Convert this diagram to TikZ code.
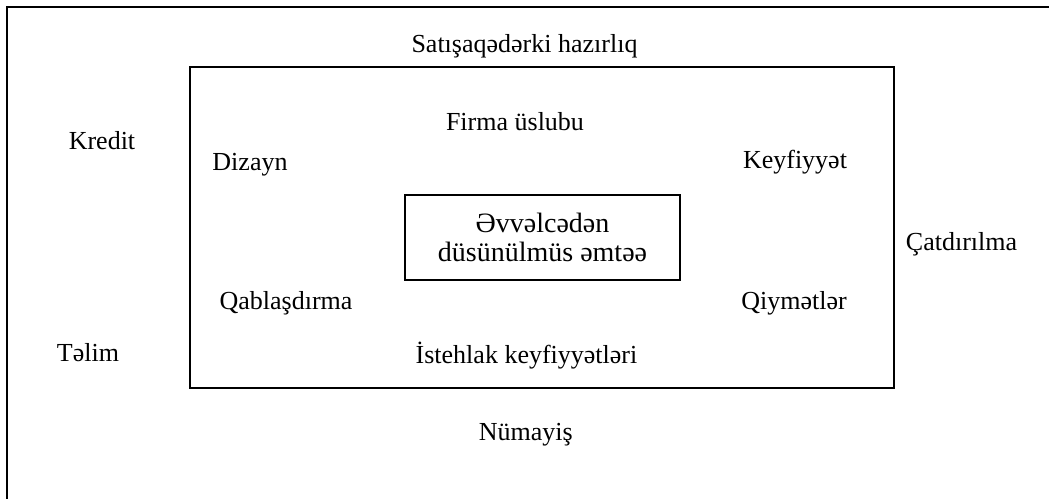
\documentclass[tikz,border=0pt]{standalone}
\usepackage{fontspec}
\setmainfont{Liberation Serif}
\begin{document}
\begin{tikzpicture}[x=1pt,y=-1pt,
  lbl/.style={anchor=base,inner sep=0pt,font=\fontsize{26}{31}\selectfont},
  box/.style={draw,line width=1.4pt,inner sep=0pt},
]
\useasboundingbox (0,0) rectangle (1049,498);

% outer frame, open to the right and bottom
\coordinate (fl) at (7,500);
\coordinate (ft) at (7,6.5);
\coordinate (fr) at (1051,6.5);
\draw[line width=2pt] (fl) -- (ft) -- (fr);

% inner frame
\node[box,minimum width=704pt,minimum height=321pt] (inner) at (542,227.5) {};

% central product box
\node[box,line width=1.2pt,minimum width=275pt,minimum height=85pt,align=center,
      font=\fontsize{28}{29}\selectfont] (core) at (542.5,237.5)
      {Əvvəlcədən\\düsünülmüs əmtəə};

% labels inside the inner frame
\node[lbl] (firma) at (515,130) {Firma üslubu};
\node[lbl] (dizayn) at (250,170) {Dizayn};
\node[lbl] (keyf) at (795,168) {Keyfiyyət};
\node[lbl] (qabl) at (286,309) {Qablaşdırma};
\node[lbl] (qiym) at (794,309) {Qiymətlər};
\node[lbl] (istehlak) at (526.5,363) {İstehlak keyfiyyətləri};

% labels outside the inner frame
\node[lbl] (satis) at (524.5,52) {Satışaqədərki hazırlıq};
\node[lbl] (kredit) at (102,149) {Kredit};
\node[lbl] (telim) at (88,361) {Təlim};
\node[lbl] (catd) at (961.5,250) {Çatdırılma};
\node[lbl] (numayis) at (525.7,440) {Nümayiş};
\end{tikzpicture}
\end{document}
